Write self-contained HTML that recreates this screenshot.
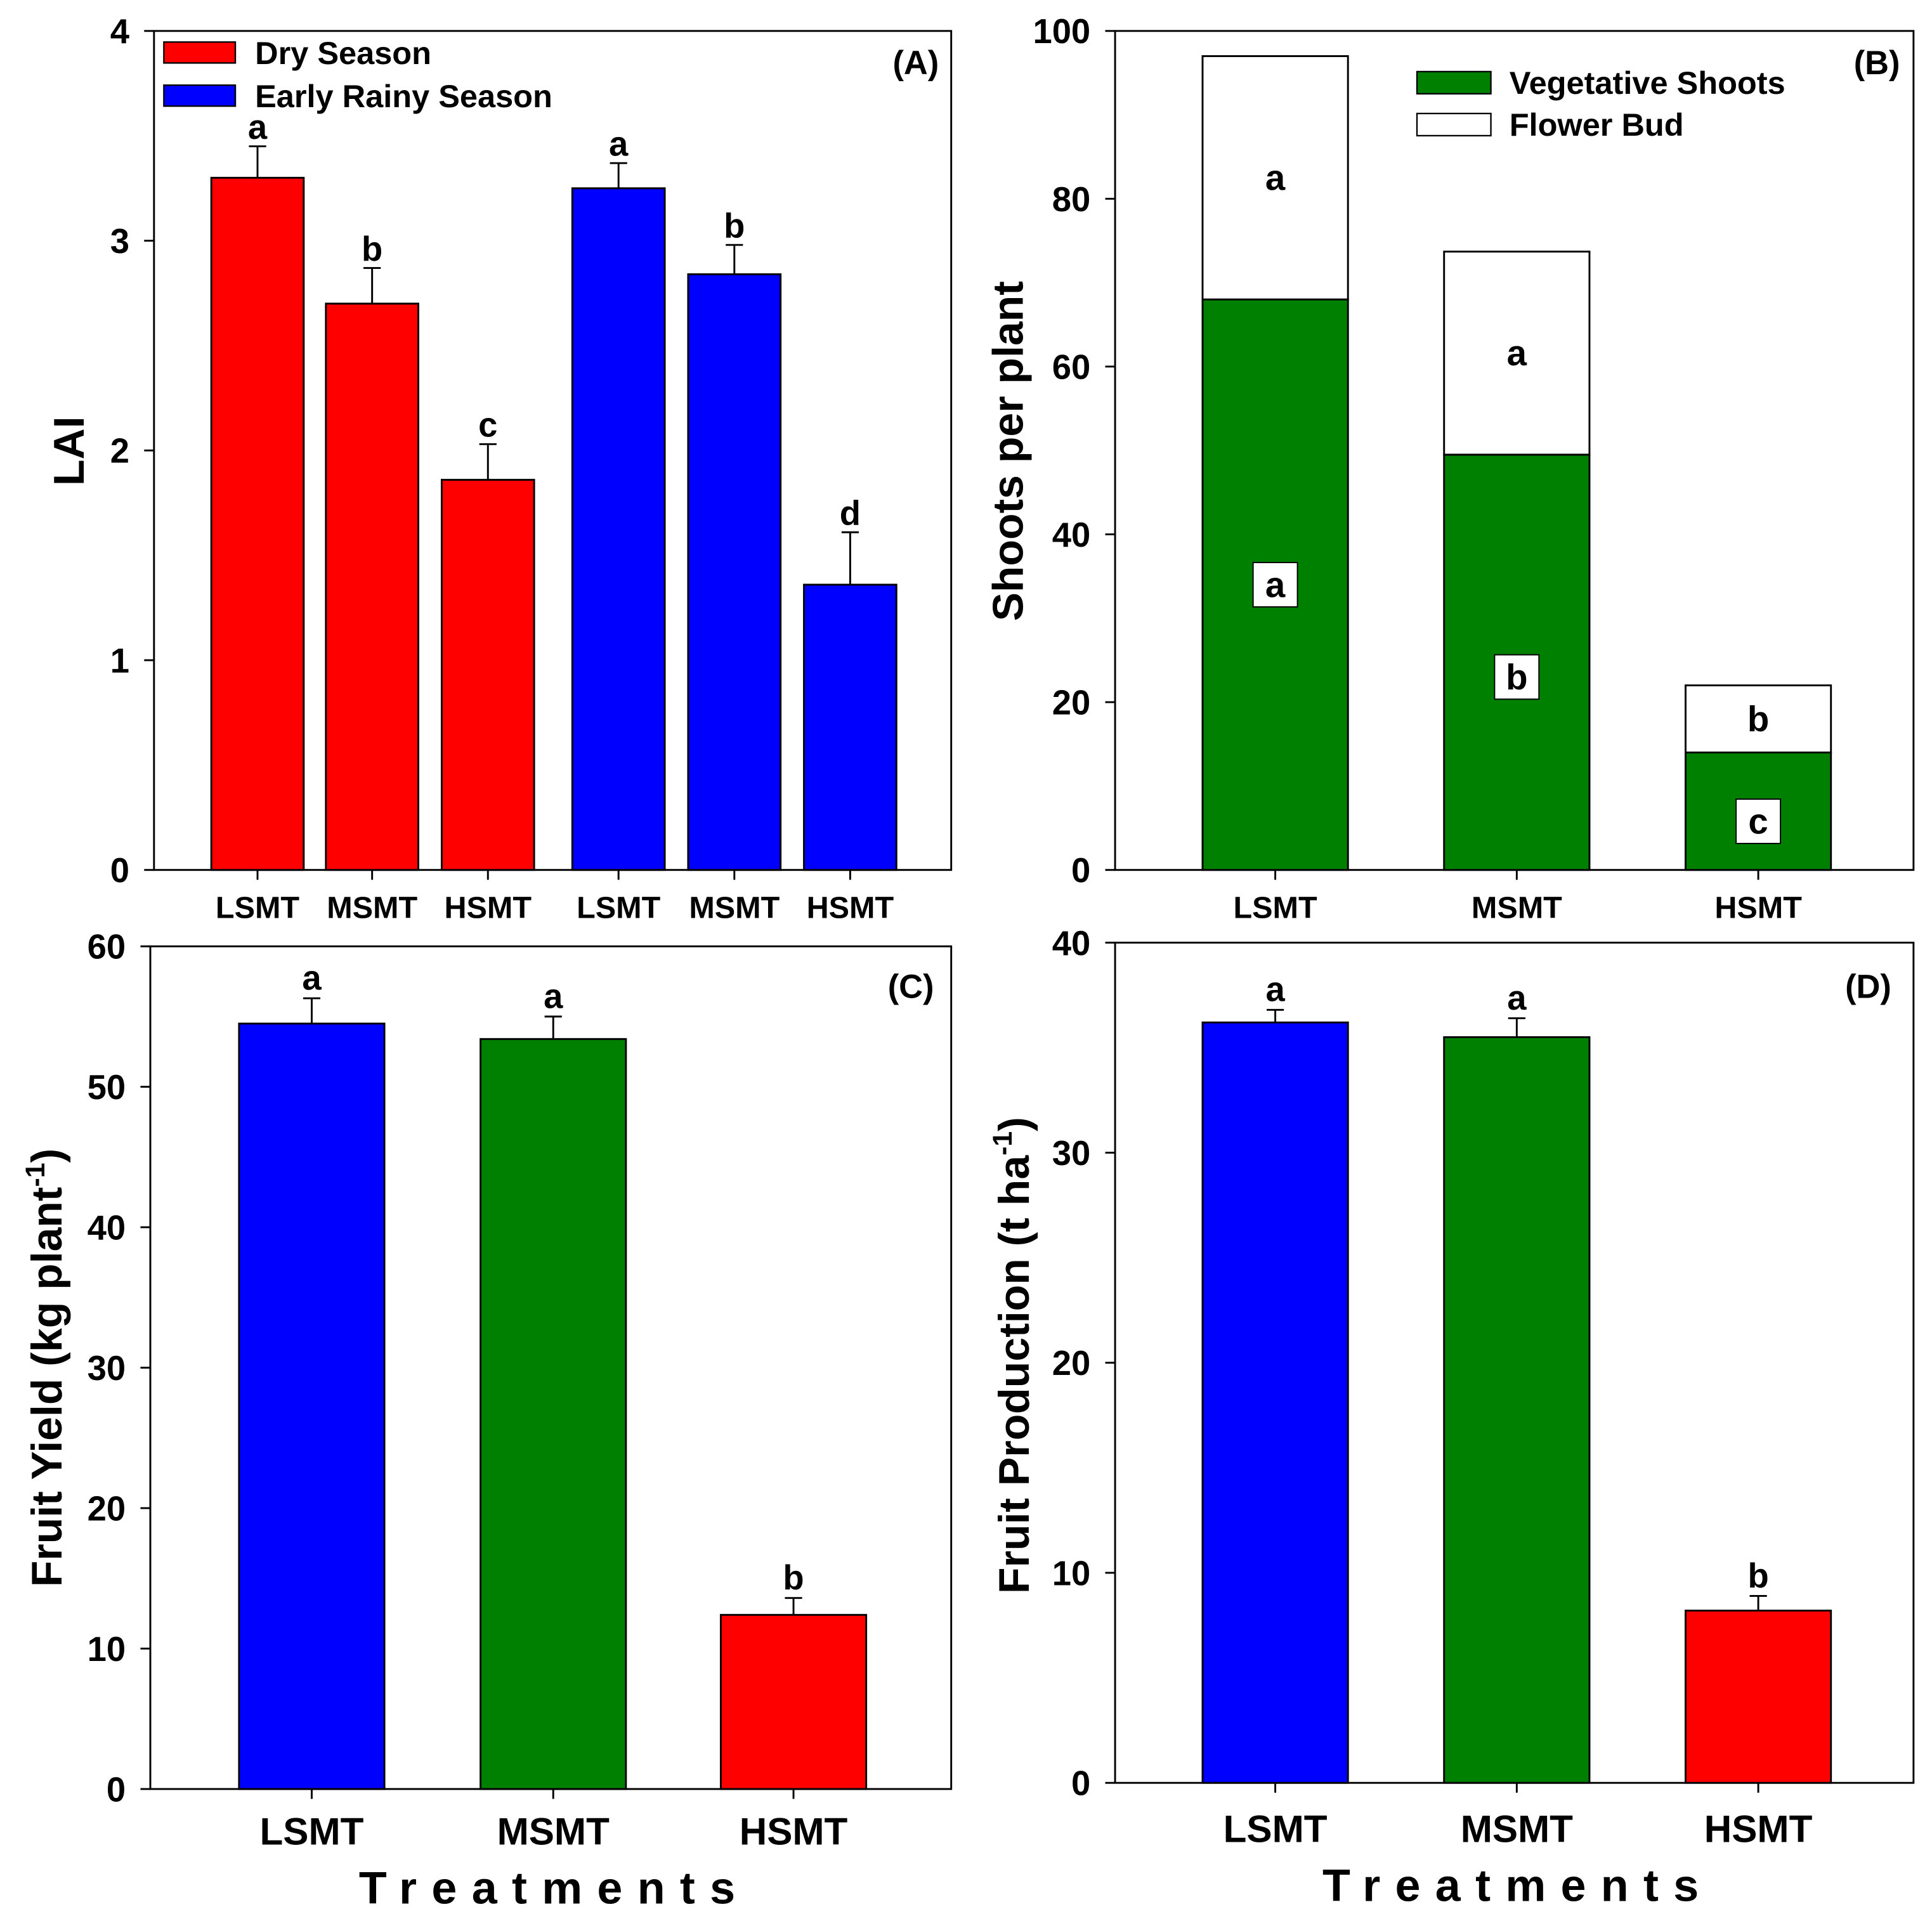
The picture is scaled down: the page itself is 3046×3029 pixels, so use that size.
<!DOCTYPE html>
<html><head><meta charset="utf-8"><style>
html,body{margin:0;padding:0;background:#fff;}
svg{display:block;font-family:"Liberation Sans",Arial,sans-serif;font-weight:bold;}
</style></head><body>
<svg id="fig" width="3046" height="3029" viewBox="0 0 1568 1559" xmlns="http://www.w3.org/2000/svg"></svg>
<script>
// Panel A data
const aCats=["LSMT","MSMT","HSMT","LSMT","MSMT","HSMT"];
const aVals=[3.30,2.70,1.86,3.25,2.84,1.36];
const aErr=[0.15,0.17,0.17,0.12,0.14,0.25];
const aLetters=["a","b","c","a","b","d"];
const aTicks=[0,1,2,3,4];
// Panel B data
const bCats=["LSMT","MSMT","HSMT"];
const bVeg=[68,49.5,14];
const bFlower=[29,24.2,8];
const bVegLetters=["a","b","c"];
const bVegLetterAt=[34,23,5.8];
const bFlowerLetters=["a","a","b"];
const bTicks=[0,20,40,60,80,100];
// Panel C data
const cCats=["LSMT","MSMT","HSMT"];
const cVals=[54.5,53.4,12.4];
const cErr=[1.8,1.6,1.2];
const cLetters=["a","a","b"];
const cTicks=[0,10,20,30,40,50,60];
// Panel D data
const dCats=["LSMT","MSMT","HSMT"];
const dVals=[36.2,35.5,8.2];
const dErr=[0.6,0.9,0.7];
const dLetters=["a","a","b"];
const dTicks=[0,10,20,30,40];

const svg=document.getElementById('fig');
const NS="http://www.w3.org/2000/svg";
function mk(tag,attrs,parent,text){const e=document.createElementNS(NS,tag);for(const k in attrs)e.setAttribute(k,attrs[k]);if(text!==undefined)e.textContent=text;(parent||svg).appendChild(e);return e;}

function axes(name,x0,x1,y0,y1,max,ticks,ytitle,titleX,titleY,label,labelX,labelY){
  const g=mk('g',{});
  
  
  const ys=v=>y1-(v/max)*(y1-y0);
  const box=mk('rect',{x:x0,y:y0,width:x1-x0,height:y1-y0,fill:'none',stroke:'#000','stroke-width':1.5},g);
  
  
  ticks.forEach(t=>{
    mk('line',{x1:x0-8,x2:x0,y1:ys(t),y2:ys(t),stroke:'#000','stroke-width':1.5},g);
    const tl=mk('text',{x:x0-20,y:ys(t)+10,'text-anchor':'end','font-size':28},g,String(t));
    
    
  });
  const yt=mk('text',{x:titleX,y:titleY,'text-anchor':'middle','font-size':35,transform:`rotate(-90 ${titleX} ${titleY})`},g);
  yt.innerHTML=ytitle;
  
  
  const pl=mk('text',{x:labelX,y:labelY,'text-anchor':'end','font-size':27},g,label);
  
  
  return {g,ys};
}
function bar(g,cx,w,ys,v0,v1,fill){
  const r=mk('rect',{x:cx-w/2,y:ys(v1),width:w,height:ys(v0)-ys(v1),fill:fill,stroke:'#000','stroke-width':1.5},g);
  
  
  return r;
}
function errbar(g,cx,ys,v,e){
  const l=mk('path',{d:`M${cx} ${ys(v)}V${ys(v+e)}M${cx-7} ${ys(v+e)}H${cx+7}`,stroke:'#000','stroke-width':1.5,fill:'none'},g);
  
  
}
function txt(g,x,y,s,size,name){
  const t=mk('text',{x:x,y:y,'text-anchor':'middle','font-size':size},g,s);
  
  
  return t;
}

// Panel A
(function(){
  const x0=125,x1=772,y0=25,y1=706;
  const {g,ys}=axes('panel-a',x0,x1,y0,y1,4,aTicks,'LAI',68,366,'(A)',762,60);
  const centers=[209,302,396,502,596,690];
  aVals.forEach((v,i)=>{
    const cx=centers[i];
    bar(g,cx,75,ys,0,v,i<3?'#ff0000':'#0000ff');
    errbar(g,cx,ys,v,aErr[i]);
    txt(g,cx,ys(v+aErr[i])-6,aLetters[i],28,'significance-letter');
    mk('line',{x1:cx,x2:cx,y1:y1,y2:y1+8,stroke:'#000','stroke-width':1.5},g);
    txt(g,cx,745,aCats[i],25,'x-tick-label');
  });
  const leg=[['#ff0000','Dry Season',43],['#0000ff','Early Rainy Season',78]];
  leg.forEach(([c,s,y])=>{
    const r=mk('rect',{x:133,y:y-9,width:58,height:17,fill:c,stroke:'#000','stroke-width':1.2},g);
    
    
    const t=mk('text',{x:207,y:y+9,'font-size':26},g,s);
    
    
  });
})();

// Panel B
(function(){
  const x0=905,x1=1553,y0=25,y1=706;
  const {g,ys}=axes('panel-b',x0,x1,y0,y1,100,bTicks,'Shoots per plant',830,366,'(B)',1542,60);
  const centers=[1035,1231,1427];
  bCats.forEach((c,i)=>{
    const cx=centers[i];
    bar(g,cx,118,ys,0,bVeg[i],'#008000');
    bar(g,cx,118,ys,bVeg[i],bVeg[i]+bFlower[i],'#ffffff');
    const vy=ys(bVegLetterAt[i]);
    const bx=mk('rect',{x:cx-18,y:vy-18,width:36,height:36,fill:'#fff',stroke:'#000','stroke-width':1},g);
    
    
    txt(g,cx,vy+10,bVegLetters[i],29,'significance-letter');
    txt(g,cx,ys(bVeg[i]+bFlower[i]/2)+10,bFlowerLetters[i],29,'significance-letter');
    mk('line',{x1:cx,x2:cx,y1:y1,y2:y1+8,stroke:'#000','stroke-width':1.5},g);
    txt(g,cx,745,c,25,'x-tick-label');
  });
  const leg=[['#008000','Vegetative Shoots',67],['#ffffff','Flower Bud',101]];
  leg.forEach(([c,s,y])=>{
    const r=mk('rect',{x:1150,y:y-9,width:60,height:18,fill:c,stroke:'#000','stroke-width':1.2},g);
    
    
    const t=mk('text',{x:1225,y:y+9,'font-size':26},g,s);
    
    
  });
})();

// Panel C
(function(){
  const x0=122,x1=772,y0=768,y1=1452;
  const {g,ys}=axes('panel-c',x0,x1,y0,y1,60,cTicks,'Fruit Yield (kg plant<tspan dy="-14" font-size="22">-1</tspan><tspan dy="14">)</tspan>',50,1110,'(C)',758,810);
  const centers=[253,449,644];
  const cols=['#0000ff','#008000','#ff0000'];
  cVals.forEach((v,i)=>{
    const cx=centers[i];
    bar(g,cx,118,ys,0,v,cols[i]);
    errbar(g,cx,ys,v,cErr[i]);
    txt(g,cx,ys(v+cErr[i])-7,cLetters[i],28,'significance-letter');
    mk('line',{x1:cx,x2:cx,y1:y1,y2:y1+8,stroke:'#000','stroke-width':1.5},g);
    txt(g,cx,1497,cCats[i],31,'x-tick-label');
  });
  const xt=txt(g,450,1545,'Treatments',37,'x-axis-title');
  xt.setAttribute('letter-spacing','12');
})();

// Panel D
(function(){
  const x0=905,x1=1553,y0=765,y1=1447;
  const {g,ys}=axes('panel-d',x0,x1,y0,y1,40,dTicks,'Fruit Production (t ha<tspan dy="-14" font-size="22">-1</tspan><tspan dy="14">)</tspan>',835,1100,'(D)',1535,810);
  const centers=[1035,1231,1427];
  const cols=['#0000ff','#008000','#ff0000'];
  dVals.forEach((v,i)=>{
    const cx=centers[i];
    bar(g,cx,118,ys,0,v,cols[i]);
    errbar(g,cx,ys,v,dErr[i]);
    txt(g,cx,ys(v+dErr[i])-7,dLetters[i],28,'significance-letter');
    mk('line',{x1:cx,x2:cx,y1:y1,y2:y1+8,stroke:'#000','stroke-width':1.5},g);
    txt(g,cx,1495,dCats[i],31,'x-tick-label');
  });
  const xt=txt(g,1232,1543,'Treatments',37,'x-axis-title');
  xt.setAttribute('letter-spacing','12');
})();
</script>
</body></html>
